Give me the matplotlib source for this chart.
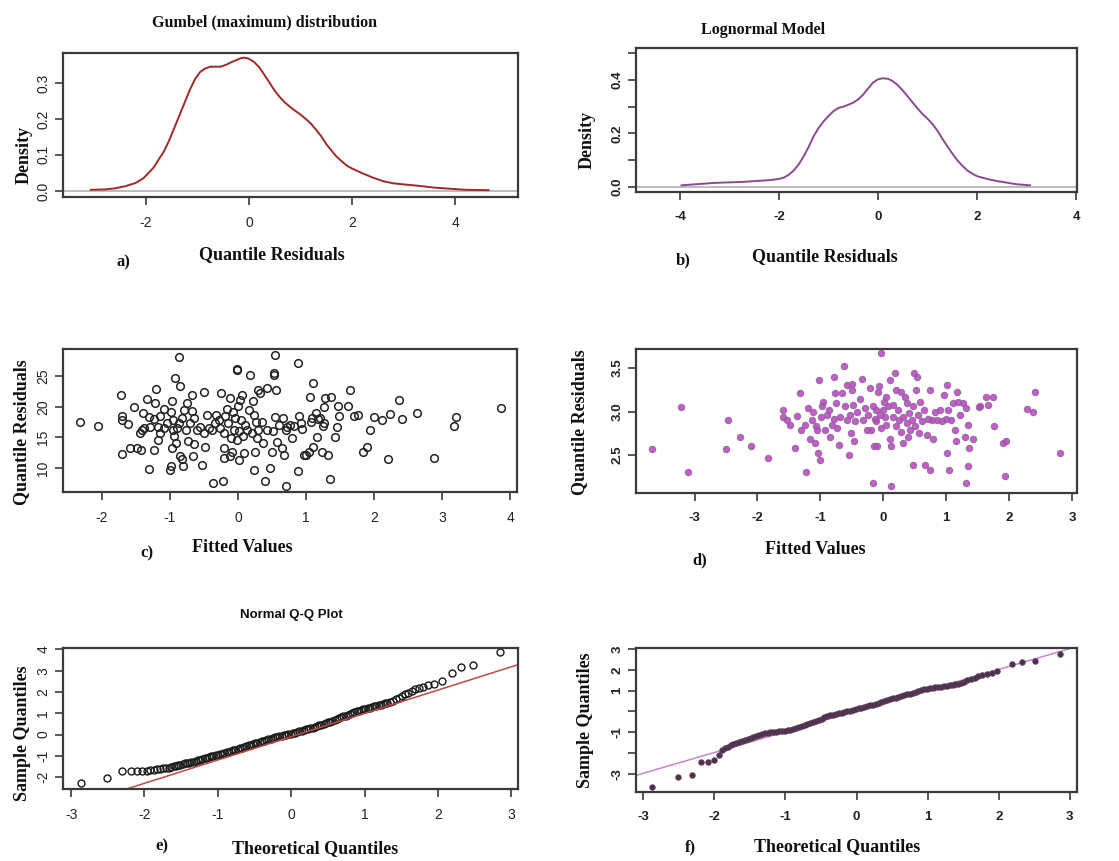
import matplotlib
matplotlib.use("Agg")
import matplotlib.pyplot as plt

# ---- a) Gumbel density of quantile residuals
gumbel_x = [-3.07, -2.8, -2.6, -2.4, -2.2, -2.05, -1.95, -1.85, -1.75, -1.65, -1.55,
            -1.45, -1.35, -1.25, -1.15, -1.05, -0.95, -0.85, -0.75, -0.65, -0.55,
            -0.45, -0.35, -0.25, -0.15, -0.08, 0.0, 0.1, 0.2, 0.3, 0.4, 0.5, 0.6,
            0.7, 0.8, 0.9, 1.0, 1.1, 1.2, 1.3, 1.4, 1.5, 1.6, 1.7, 1.8, 1.9, 2.0,
            2.2, 2.4, 2.6, 2.8, 3.0, 3.3, 3.6, 3.9, 4.2, 4.65]
gumbel_d = [0.003, 0.004, 0.007, 0.013, 0.022, 0.035, 0.05, 0.065, 0.088, 0.11, 0.14,
            0.175, 0.21, 0.245, 0.28, 0.31, 0.33, 0.34, 0.345, 0.345, 0.345,
            0.35, 0.357, 0.363, 0.369, 0.37, 0.367, 0.358, 0.343, 0.322, 0.30, 0.278, 0.26,
            0.245, 0.233, 0.222, 0.212, 0.20, 0.187, 0.17, 0.152, 0.13, 0.112, 0.095, 0.082,
            0.07, 0.062, 0.049, 0.037, 0.027, 0.021, 0.018, 0.014, 0.009, 0.006, 0.003, 0.002]

# ---- b) Lognormal density of quantile residuals
logn_x = [-3.97, -3.6, -3.3, -3.0, -2.7, -2.4, -2.2, -2.0, -1.9, -1.8, -1.7, -1.6,
          -1.5, -1.4, -1.3, -1.2, -1.1, -1.0, -0.9, -0.8, -0.7, -0.6, -0.5, -0.4,
          -0.3, -0.2, -0.1, 0.0, 0.1, 0.2, 0.3, 0.4, 0.5, 0.6, 0.7, 0.8, 0.9, 1.0,
          1.1, 1.2, 1.3, 1.4, 1.5, 1.6, 1.7, 1.8, 1.9, 2.0, 2.2, 2.4, 2.6, 2.8, 3.07]
logn_d = [0.006, 0.011, 0.015, 0.017, 0.019, 0.023, 0.025, 0.03, 0.035, 0.046, 0.062, 0.085,
          0.115, 0.15, 0.19, 0.22, 0.245, 0.265, 0.283, 0.295, 0.30, 0.307, 0.315, 0.327,
          0.345, 0.368, 0.39, 0.402, 0.406, 0.404, 0.395, 0.38, 0.36, 0.338, 0.315, 0.293,
          0.272, 0.255, 0.235, 0.21, 0.18, 0.152, 0.125, 0.10, 0.08, 0.062, 0.05, 0.04,
          0.03, 0.022, 0.016, 0.01, 0.006]

# ---- c) Gumbel: residuals vs fitted
c_fit = [-2.32, -2.05, -1.72, -1.71, -1.71, -1.62, -1.71, -1.58, -1.53, -1.49, -1.43,
         -1.44, -1.41, -1.38, -1.39, -1.33, -1.31, -1.30, -1.29, -1.24, -1.24, -1.22,
         -1.20, -1.18, -1.17, -1.15, -1.14, -1.09, -1.09, -1.04, -1.00, -0.99, -0.99,
         -0.97, -0.97, -0.96, -0.95, -0.94, -0.93, -0.91, -0.90, -0.87, -0.87, -0.85,
         -0.85, -0.82, -0.82, -0.80, -0.79, -0.77, -0.75, -0.73, -0.70, -0.68, -0.67,
         -0.66, -0.65, -0.65, -0.60, -0.55, -0.53, -0.50, -0.50, -0.48, -0.46, -0.43,
         -0.38, -0.36, -0.33, -0.32, -0.28, -0.26, -0.25, -0.22, -0.21, -0.21, -0.20,
         -0.19, -0.16, -0.14, -0.12, -0.11, -0.10, -0.09, -0.07, -0.06, -0.04, -0.02,
         -0.01, -0.01, 0.00, 0.01, 0.02, 0.03, 0.04, 0.06, 0.07, 0.09, 0.11, 0.13,
         0.16, 0.18, 0.21, 0.22, 0.23, 0.24, 0.25, 0.27, 0.28, 0.29, 0.30, 0.33,
         0.35, 0.37, 0.40, 0.42, 0.43, 0.47, 0.50, 0.52, 0.53, 0.53, 0.55, 0.55,
         0.56, 0.57, 0.60, 0.65, 0.66, 0.67, 0.70, 0.71, 0.72, 0.77, 0.79, 0.82,
         0.88, 0.88, 0.89, 0.92, 0.94, 0.97, 1.00, 1.04, 1.06, 1.07, 1.09, 1.10,
         1.11, 1.14, 1.16, 1.17, 1.21, 1.24, 1.25, 1.26, 1.27, 1.28, 1.33, 1.36,
         1.37, 1.43, 1.46, 1.47, 1.48, 1.62, 1.65, 1.70, 1.76, 1.84, 1.90, 1.94,
         2.00, 2.11, 2.21, 2.24, 2.36, 2.41, 2.63, 2.88, 3.17, 3.21, 3.87]
c_res = [17.6, 16.9, 22.0, 18.6, 17.9, 17.2, 12.3, 13.2, 20.0, 13.2, 12.9,
         15.8, 16.3, 16.5, 19.0, 21.3, 9.8, 18.3, 16.7, 13.0, 18.0, 20.6,
         23.0, 16.7, 14.6, 18.5, 15.7, 19.7, 16.5, 17.4, 9.7, 10.3, 19.1,
         21.0, 13.3, 17.9, 16.3, 15.2, 24.8, 14.1, 16.5, 17.3, 28.2, 23.4,
         11.9, 11.4, 18.2, 10.4, 19.5, 16.3, 20.6, 14.4, 17.4, 19.3, 21.9,
         12.0, 13.9, 18.2, 16.3, 16.7, 10.5, 15.8, 22.5, 13.5, 18.7, 16.5,
         16.3, 7.5, 17.4, 18.7, 17.9, 16.5, 22.3, 7.8, 15.7, 11.6, 13.3,
         18.5, 19.7, 17.4, 21.5, 11.9, 14.9, 12.7, 19.1, 16.3, 18.2, 26.2,
         26.0, 14.6, 20.2, 11.3, 16.0, 21.2, 17.9, 22.0, 15.2, 12.5, 17.1, 16.3,
         19.5, 25.3, 15.7, 21.0, 18.7, 9.7, 12.7, 17.5, 14.9, 22.8, 16.3, 22.3,
         17.6, 14.1, 7.8, 23.1, 16.3, 10.0, 12.7, 16.0, 25.5, 25.3, 28.5, 18.3,
         22.8, 14.2, 17.1, 13.3, 18.2, 12.2, 16.3, 7.1, 16.8, 17.1, 14.9, 16.9,
         27.2, 9.5, 18.6, 17.4, 16.4, 12.2, 12.2, 12.7, 21.7, 17.6, 18.2, 23.9,
         13.5, 19.0, 15.1, 18.0, 18.2, 12.7, 16.9, 17.4, 20.0, 21.5, 12.2, 8.2,
         21.7, 15.1, 16.7, 20.2, 18.6, 20.2, 22.8, 18.6, 18.7, 12.6, 13.4, 16.2,
         18.3, 17.9, 11.4, 18.8, 21.1, 18.0, 19.0, 11.6, 16.9, 18.3, 19.8]

# ---- d) Lognormal: residuals vs fitted
d_fit = [-3.68, -3.22, -3.11, -2.50, -2.46, -2.28, -2.10, -1.83, -1.60, -1.59, -1.53,
         -1.48, -1.40, -1.37, -1.32, -1.31, -1.24, -1.23, -1.19, -1.16, -1.14, -1.11,
         -1.08, -1.07, -1.06, -1.03, -1.02, -1.01, -0.99, -0.98, -0.95, -0.93, -0.90,
         -0.87, -0.85, -0.82, -0.79, -0.78, -0.77, -0.75, -0.74, -0.71, -0.69, -0.66,
         -0.63, -0.61, -0.58, -0.57, -0.54, -0.53, -0.52, -0.50, -0.49, -0.48, -0.47,
         -0.45, -0.42, -0.37, -0.34, -0.32, -0.29, -0.26, -0.24, -0.21, -0.19, -0.17,
         -0.16, -0.14, -0.13, -0.12, -0.11, -0.10, -0.08, -0.06, -0.05, -0.04, -0.03,
         -0.01, 0.01, 0.03, 0.04, 0.05, 0.08, 0.10, 0.11, 0.12, 0.13, 0.15, 0.16,
         0.19, 0.20, 0.21, 0.24, 0.25, 0.28, 0.29, 0.31, 0.32, 0.34, 0.37, 0.38,
         0.40, 0.41, 0.42, 0.45, 0.47, 0.48, 0.49, 0.50, 0.52, 0.53, 0.56, 0.57,
         0.59, 0.62, 0.65, 0.66, 0.69, 0.71, 0.74, 0.75, 0.77, 0.79, 0.82, 0.85,
         0.90, 0.94, 0.96, 0.99, 1.02, 1.02, 1.03, 1.05, 1.07, 1.11, 1.14, 1.15,
         1.17, 1.19, 1.22, 1.27, 1.30, 1.31, 1.32, 1.35, 1.35, 1.37, 1.43, 1.52,
         1.54, 1.63, 1.67, 1.75, 1.76, 1.90, 1.95, 1.93, 2.28, 2.38, 2.41, 2.81]
d_res = [2.57, 3.05, 2.31, 2.57, 2.90, 2.71, 2.61, 2.47, 3.02, 2.94, 2.90,
         2.85, 2.58, 2.95, 3.21, 2.79, 2.85, 2.31, 3.04, 2.69, 2.90, 3.00,
         2.64, 2.83, 2.79, 2.52, 3.36, 2.45, 2.94, 3.06, 3.11, 2.79, 2.96,
         3.02, 2.71, 2.85, 2.92, 3.40, 3.21, 3.10, 2.81, 2.62, 2.94, 3.21,
         3.53, 3.06, 3.31, 2.90, 2.50, 2.96, 2.75, 3.25, 3.32, 3.08, 2.66,
         2.89, 3.00, 3.15, 3.38, 2.90, 3.04, 2.79, 2.96, 3.27, 2.79, 2.18,
         3.06, 2.60, 2.92, 3.02, 2.89, 2.60, 3.23, 3.29, 2.96, 3.67, 2.81,
         3.02, 3.11, 2.94, 3.17, 2.85, 3.06, 2.68, 3.36, 2.14, 2.60, 2.94, 3.08,
         3.44, 2.83, 3.25, 3.02, 2.90, 3.23, 2.77, 2.94, 2.64, 3.17, 2.87, 3.10,
         2.71, 2.98, 2.79, 2.90, 3.06, 2.39, 3.44, 2.83, 3.25, 3.40, 2.96, 2.75,
         3.11, 2.89, 3.02, 2.39, 2.73, 2.92, 3.25, 2.33, 2.90, 2.69, 3.00, 2.90,
         3.02, 2.89, 3.19, 2.92, 3.31, 2.52, 3.02, 2.33, 2.90, 3.10, 2.79, 2.66,
         3.23, 3.11, 2.96, 3.10, 2.71, 2.18, 3.04, 2.85, 2.37, 2.58, 2.68, 3.05,
         3.06, 3.17, 3.08, 3.17, 2.84, 2.64, 2.66, 2.26, 3.03, 3.00, 3.23, 2.53]

# ---- e) Normal Q-Q plot, Gumbel residuals
e_theo = [-2.87, -2.51, -2.31, -2.18, -2.10, -2.03, -1.97, -1.92, -1.87, -1.83, -1.79,
          -1.75, -1.71, -1.67, -1.64, -1.60, -1.57, -1.54, -1.51, -1.48, -1.45, -1.42,
          -1.39, -1.36, -1.33, -1.30, -1.27, -1.24, -1.21, -1.18, -1.15, -1.12, -1.09,
          -1.06, -1.03, -1.00, -0.97, -0.94, -0.91, -0.88, -0.85, -0.82, -0.79, -0.76,
          -0.73, -0.70, -0.67, -0.64, -0.61, -0.58, -0.55, -0.52, -0.49, -0.46, -0.43,
          -0.40, -0.37, -0.34, -0.31, -0.28, -0.25, -0.22, -0.19, -0.16, -0.13, -0.10,
          -0.07, -0.04, -0.01, 0.02, 0.05, 0.08, 0.11, 0.14, 0.17, 0.20, 0.23, 0.26,
          0.29, 0.32, 0.35, 0.38, 0.41, 0.44, 0.47, 0.50, 0.53, 0.56, 0.59, 0.62,
          0.65, 0.68, 0.71, 0.74, 0.77, 0.80, 0.83, 0.86, 0.89, 0.92, 0.95, 0.98,
          1.01, 1.04, 1.07, 1.10, 1.13, 1.16, 1.19, 1.22, 1.25, 1.28, 1.31, 1.35,
          1.39, 1.43, 1.47, 1.51, 1.55, 1.59, 1.64, 1.69, 1.74, 1.80, 1.87, 1.95,
          2.05, 2.19, 2.32, 2.48, 2.84]
e_samp = [-2.29, -2.06, -1.70, -1.71, -1.72, -1.72, -1.70, -1.68, -1.66, -1.63, -1.61,
          -1.59, -1.57, -1.55, -1.52, -1.50, -1.47, -1.44, -1.41, -1.38, -1.36, -1.34,
          -1.32, -1.30, -1.27, -1.24, -1.21, -1.18, -1.15, -1.12, -1.09, -1.05, -1.02,
          -0.99, -0.97, -0.95, -0.93, -0.90, -0.87, -0.84, -0.80, -0.77, -0.74, -0.71,
          -0.68, -0.64, -0.61, -0.58, -0.55, -0.51, -0.48, -0.45, -0.42, -0.38, -0.34,
          -0.31, -0.28, -0.25, -0.22, -0.19, -0.16, -0.13, -0.10, -0.08, -0.05, -0.03,
          -0.01, 0.02, 0.04, 0.06, 0.09, 0.12, 0.15, 0.18, 0.21, 0.24, 0.27, 0.30,
          0.33, 0.36, 0.40, 0.43, 0.46, 0.50, 0.54, 0.57, 0.61, 0.65, 0.69, 0.73,
          0.77, 0.81, 0.85, 0.89, 0.93, 0.97, 1.01, 1.05, 1.09, 1.12, 1.15, 1.18,
          1.21, 1.24, 1.27, 1.30, 1.32, 1.35, 1.38, 1.41, 1.44, 1.47, 1.50, 1.55,
          1.60, 1.66, 1.74, 1.82, 1.90, 1.97, 2.05, 2.12, 2.18, 2.24, 2.31, 2.40,
          2.52, 2.89, 3.17, 3.25, 3.86]
e_line = (-0.10, 1.096)  # intercept, slope of qqline

# ---- f) Normal Q-Q plot, lognormal residuals
f_theo = [-2.88, -2.51, -2.31, -2.18, -2.09, -2.00, -1.94, -1.89, -1.85, -1.81, -1.77,
          -1.73, -1.69, -1.65, -1.61, -1.57, -1.53, -1.49, -1.45, -1.41, -1.37, -1.33,
          -1.29, -1.25, -1.21, -1.17, -1.13, -1.09, -1.05, -1.01, -0.97, -0.93, -0.89,
          -0.85, -0.81, -0.77, -0.73, -0.69, -0.65, -0.61, -0.57, -0.53, -0.49, -0.45,
          -0.41, -0.37, -0.33, -0.29, -0.25, -0.21, -0.17, -0.13, -0.09, -0.05, -0.01,
          0.03, 0.07, 0.11, 0.15, 0.19, 0.23, 0.27, 0.31, 0.35, 0.39, 0.43, 0.47,
          0.51, 0.55, 0.59, 0.63, 0.67, 0.71, 0.75, 0.79, 0.83, 0.87, 0.91, 0.95,
          0.99, 1.03, 1.07, 1.11, 1.15, 1.19, 1.23, 1.27, 1.31, 1.35, 1.39, 1.43,
          1.47, 1.51, 1.56, 1.61, 1.66, 1.71, 1.77, 1.83, 1.90, 1.97, 2.18, 2.32,
          2.51, 2.86]
f_samp = [-3.66, -3.18, -3.05, -2.46, -2.46, -2.32, -2.12, -1.88, -1.78, -1.70, -1.64,
          -1.58, -1.53, -1.47, -1.42, -1.37, -1.32, -1.28, -1.24, -1.19, -1.14, -1.09,
          -1.06, -1.03, -1.01, -0.99, -0.97, -0.96, -0.95, -0.93, -0.91, -0.88, -0.85,
          -0.80, -0.75, -0.70, -0.66, -0.62, -0.58, -0.53, -0.48, -0.42, -0.35, -0.28,
          -0.23, -0.19, -0.16, -0.13, -0.10, -0.06, -0.03, 0.00, 0.04, 0.08, 0.11,
          0.14, 0.18, 0.21, 0.25, 0.29, 0.33, 0.37, 0.41, 0.45, 0.50, 0.54, 0.58,
          0.62, 0.66, 0.70, 0.74, 0.78, 0.82, 0.85, 0.89, 0.93, 0.98, 1.03, 1.06,
          1.09, 1.11, 1.13, 1.15, 1.17, 1.19, 1.21, 1.24, 1.26, 1.28, 1.30, 1.33,
          1.38, 1.43, 1.50, 1.56, 1.62, 1.69, 1.75, 1.81, 1.86, 1.94, 2.30, 2.36,
          2.44, 2.78]
f_line = (0.02, 1.0)

SERIF = ["Liberation Serif", "DejaVu Serif"]
SANS = ["Liberation Sans", "DejaVu Sans"]
NARROW = ["Liberation Sans Narrow", "Liberation Sans", "DejaVu Sans"]
BOX = "#3a3a3a"

fig = plt.figure(figsize=(11.19, 8.61), dpi=100)
W, H = 1119.0, 861.0


def make_axes(x0, y0, x1, y1):
    # pixel box (top-left origin) -> figure axes
    return fig.add_axes([x0 / W, 1 - y1 / H, (x1 - x0) / W, (y1 - y0) / H])


def style(ax, xticks, xlabels, yticks, ylabels, fam, size, bold=False):
    for s in ax.spines.values():
        s.set_color(BOX)
        s.set_linewidth(1.6)
    w = "bold" if bold else "normal"
    ax.set_xticks(xticks)
    ax.set_xticklabels(xlabels, family=fam, fontsize=size, fontweight=w, color="#222222")
    ax.set_yticks(yticks)
    ax.set_yticklabels(ylabels, family=fam, fontsize=size, rotation=90, va="center",
                       fontweight=w, color="#222222")
    ax.tick_params(direction="out", length=6, width=1.2, color=BOX)
    ax.tick_params(axis="x", pad=8)
    ax.tick_params(axis="y", pad=3)


def ftext(x, y, s, size=12, rot=0, fam=SERIF, weight="bold"):
    fig.text(x / W, 1 - y / H, s, ha="center", va="center", rotation=rot,
             family=fam, fontsize=size, fontweight=weight, color="#111111")


# a)
ax = make_axes(63, 53, 518, 197)
ax.axhline(0, color="#b0b0b0", lw=1.2)
ax.plot(gumbel_x, gumbel_d, color="#9e2a2a", lw=1.4)
ax.set_xlim(-3.61, 5.22)
ax.set_ylim(-0.017, 0.383)
style(ax, [-2, 0, 2, 4], ["-2", "0", "2", "4"],
      [0.0, 0.1, 0.2, 0.3], ["0.0", "0.1", "0.2", "0.3"], SANS, 10)
ftext(265, 22, "Gumbel (maximum) distribution", 11.5)
ftext(24, 155, "Density", 13, 90)
ftext(272, 255, "Quantile Residuals", 13)
ftext(123, 262, "a)", 12)

# b)
ax = make_axes(636, 48, 1077, 192)
ax.axhline(0, color="#b0b0b0", lw=1.2)
ax.plot(logn_x, logn_d, color="#8a4a8e", lw=1.4)
ax.set_xlim(-4.89, 4.02)
ax.set_ylim(-0.019, 0.519)
style(ax, [-4, -2, 0, 2, 4], ["-4", "-2", "0", "2", "4"],
      [0.0, 0.1, 0.2, 0.3, 0.4, 0.5], ["0.0", "", "0.2", "", "0.4", ""],
      NARROW, 9.5, bold=True)
ftext(763, 30, "Lognormal Model", 11.5)
ftext(587, 140, "Density", 13, 90)
ftext(825, 257, "Quantile Residuals", 13)
ftext(683, 260, "b)", 12)

# c)
ax = make_axes(63, 349, 517, 492)
ax.plot(c_fit, c_res, "o", ms=5.5, mfc="none", mec="#222222", mew=1.1)
ax.set_xlim(-2.57, 4.10)
ax.set_ylim(6.07, 29.5)
style(ax, [-2, -1, 0, 1, 2, 3, 4], ["-2", "-1", "0", "1", "2", "3", "4"],
      [10, 15, 20, 25], ["10", "15", "20", "25"], SANS, 10)
ftext(22, 432, "Quantile Residuals", 13, 90)
ftext(242, 548, "Fitted Values", 13)
ftext(147, 553, "c)", 12)

# d)
ax = make_axes(636, 349, 1077, 493)
ax.plot(d_fit, d_res, "o", ms=4.5, mfc="#c23cc8", mec="#8a6a96", mew=0.9, alpha=0.85)
ax.set_xlim(-3.93, 3.08)
ax.set_ylim(2.065, 3.72)
style(ax, [-3, -2, -1, 0, 1, 2, 3], ["-3", "-2", "-1", "0", "1", "2", "3"],
      [2.5, 3.0, 3.5], ["2.5", "3.0", "3.5"], NARROW, 9.5, bold=True)
ftext(580, 422, "Quantile Residuals", 13, 90)
ftext(815, 550, "Fitted Values", 13)
ftext(700, 560, "d)", 12)

# e)
ax = make_axes(63, 648, 518, 789)
ax.plot(e_theo, e_samp, "o", ms=5, mfc="none", mec="#1a1a1a", mew=1.0)
ax.axline((0, e_line[0]), slope=e_line[1], color="#c04848", lw=1.1)
ax.set_xlim(-3.11, 3.09)
ax.set_ylim(-2.56, 4.07)
style(ax, [-3, -2, -1, 0, 1, 2, 3], ["-3", "-2", "-1", "0", "1", "2", "3"],
      [-2, -1, 0, 1, 2, 3, 4], ["-2", "-1", "0", "1", "2", "3", "4"], SANS, 10)
ftext(291, 615, "Normal Q-Q Plot", 9.5, fam=SANS)
ftext(23, 733, "Sample Quantiles", 13, 90)
ftext(315, 849, "Theoretical Quantiles", 13)
ftext(162, 846, "e)", 12)

# f)
ax = make_axes(636, 648, 1077, 792)
ax.axline((0, f_line[0]), slope=f_line[1], color="#c888c8", lw=1.1)
ax.plot(f_theo, f_samp, "o", ms=3.8, mfc="#4a3048", mec="#5a3a58", mew=0.8)
ax.set_xlim(-3.10, 3.10)
ax.set_ylim(-3.88, 3.05)
style(ax, [-3, -2, -1, 0, 1, 2, 3], ["-3", "-2", "-1", "0", "1", "2", "3"],
      [-3, -2, -1, 0, 1, 2, 3], ["-3", "", "-1", "", "1", "2", "3"],
      NARROW, 9.5, bold=True)
ftext(585, 720, "Sample Quantiles", 13, 90)
ftext(837, 847, "Theoretical Quantiles", 13)
ftext(690, 847, "f)", 12)

fig.savefig("out.png", dpi=100)
